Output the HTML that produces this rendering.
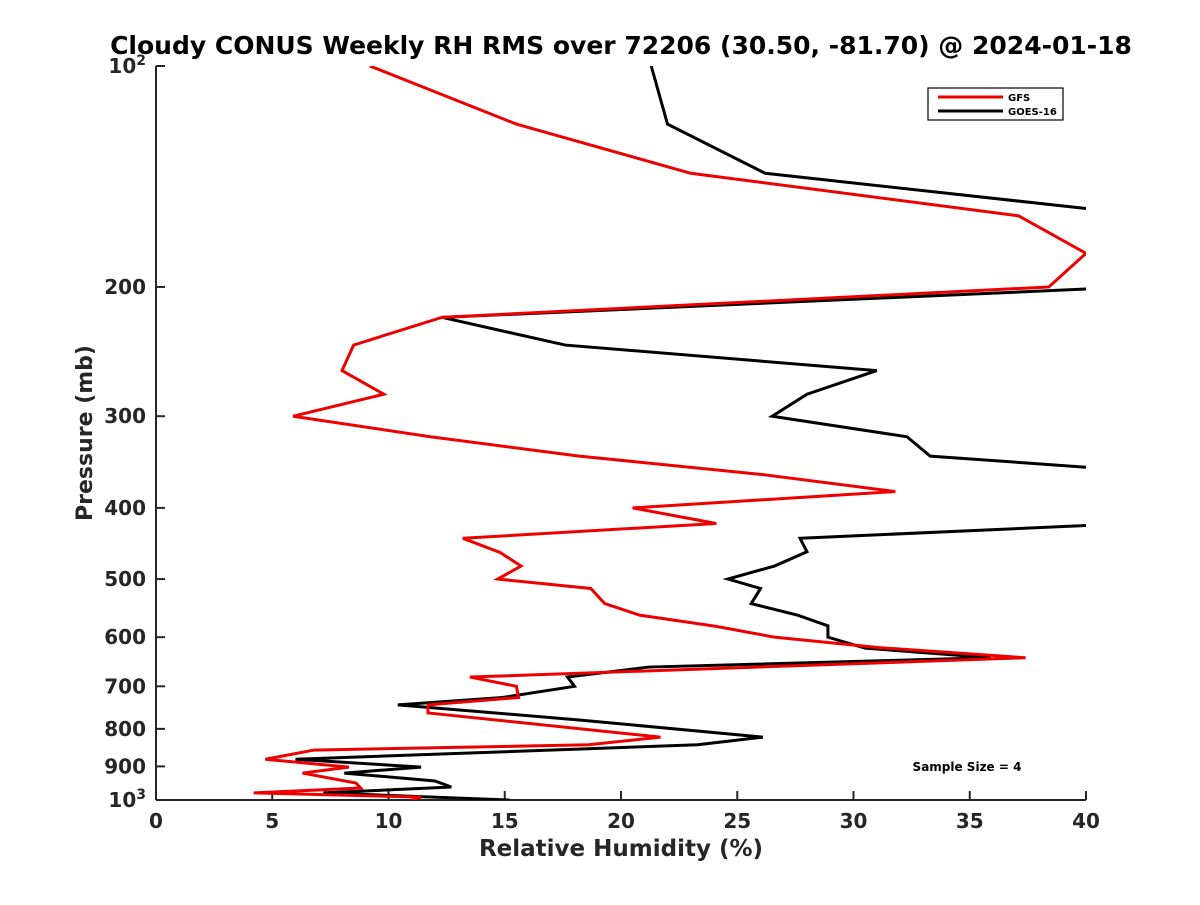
<!DOCTYPE html>
<html><head><meta charset="utf-8"><style>
body{margin:0;background:#fff;}
svg{font-family:"DejaVu Sans","Liberation Sans",sans-serif;font-weight:bold;}
</style></head><body>
<svg id="chart" width="1200" height="900">
<defs><clipPath id="clip"><rect x="156" y="66" width="930" height="734"/></clipPath></defs>
<text x="621" y="54" text-anchor="middle" font-size="25">Cloudy CONUS Weekly RH RMS over 72206 (30.50, -81.70) @ 2024-01-18</text>
<g id="axes"></g>
<g id="series" clip-path="url(#clip)"></g>
<text x="621" y="856" text-anchor="middle" font-size="23" fill="#262626">Relative Humidity (%)</text>
<text transform="translate(92,433) rotate(-90)" text-anchor="middle" font-size="22" fill="#262626">Pressure (mb)</text>
<g>
<rect x="928" y="88" width="135" height="32" fill="#fff" stroke="#000" stroke-width="1.2"/>
<line x1="938" y1="97" x2="1003" y2="97" stroke="#e00" stroke-width="3"/>
<text x="1008" y="101" font-size="10">GFS</text>
<line x1="938" y1="111" x2="1003" y2="111" stroke="#000" stroke-width="3"/>
<text x="1008" y="115" font-size="10">GOES-16</text>
</g>
<text x="967" y="771" text-anchor="middle" font-size="12">Sample Size = 4</text>
</svg>
<script>
const gfsPressure=[100,120,140,160,180,200,220,240,260,280,300,320,340,360,380,400,420,440,460,480,500,515,540,560,580,600,620,640,680,700,725,742,761,821,841,855,880,902,919,948,963,978,991,1000];
const gfsRH=[9.2,15.5,23.0,37.1,40,38.4,12.3,8.5,8.0,9.8,5.9,11.8,18.2,26.0,31.8,20.5,24.1,13.2,14.8,15.7,14.7,18.7,19.3,20.8,24.1,26.6,31.1,37.4,13.5,15.5,15.6,11.7,11.7,21.7,18.6,6.8,4.7,8.3,6.3,8.6,8.8,4.2,11.4,11.0];
const goesPressure=[100,120,140,157,201,220,240,260,280,300,320,340,353,422,440,459,480,500,515,540,560,579,600,621,640,659,680,700,725,742,778,821,841,880,902,919,942,960,978,1000];
const goesRH=[21.3,22.0,26.2,40.5,40.5,12.3,17.6,31.0,28.0,26.5,32.3,33.3,40.5,40.5,27.7,28.0,26.6,24.6,26.0,25.6,27.6,28.9,28.9,30.5,35.9,21.2,17.7,18.0,14.9,10.4,18.2,26.1,23.3,6.0,11.4,8.1,12.0,12.7,7.2,15.2];
const xTicks=[0,5,10,15,20,25,30,35,40];
const yTicks=[100,200,300,400,500,600,700,800,900,1000];
const yTickLabels=["10^2","200","300","400","500","600","700","800","900","10^3"];
const X0=156,X1=1086,Y0=66,Y1=800;
const xs=v=>X0+(v/40)*(X1-X0);
const ys=p=>Y0+Math.log10(p/100)*(Y1-Y0);
const NS="http://www.w3.org/2000/svg";
const axes=document.getElementById('axes'),series=document.getElementById('series');
function mk(tag,attrs,parent){const e=document.createElementNS(NS,tag);for(const k in attrs)e.setAttribute(k,attrs[k]);parent.appendChild(e);return e;}
let e=mk('line',{x1:X0,y1:Y0,x2:X0,y2:Y1,stroke:'#262626','stroke-width':2},axes);


e=mk('line',{x1:X0,y1:Y1,x2:X1,y2:Y1,stroke:'#262626','stroke-width':2},axes);


xTicks.forEach(t=>{
 const x=xs(t);
 let l=mk('line',{x1:x,y1:Y1,x2:x,y2:Y1-9,stroke:'#262626','stroke-width':2},axes);
 
 
 let tx=mk('text',{x:x,y:Y1+28,'text-anchor':'middle','font-size':20,fill:'#262626'},axes);
 tx.textContent=t;
 
 
});
yTicks.forEach((t,i)=>{
 const y=ys(t);
 let l=mk('line',{x1:X0,y1:y,x2:X0+9,y2:y,stroke:'#262626','stroke-width':2},axes);
 
 
 let tx=mk('text',{x:X0-10,y:y+7,'text-anchor':'end','font-size':20,fill:'#262626'},axes);
 const lab=yTickLabels[i];
 if(lab.includes('^')){
   const [b,s]=lab.split('^');
   const t1=mk('tspan',{},tx); t1.textContent=b;
   const t2=mk('tspan',{dy:-8,'font-size':14},tx); t2.textContent=s;
 } else tx.textContent=lab;
 
 
});
function drawLine(P,R,color,name){
 const pts=P.map((p,i)=>xs(R[i])+','+ys(p)).join(' ');
 const pl=mk('polyline',{points:pts,fill:'none',stroke:color,'stroke-width':3,'stroke-linejoin':'miter'},series);
 
 
}
drawLine(goesPressure,goesRH,'#000','goes16-line');
drawLine(gfsPressure,gfsRH,'#e00','gfs-line');
</script>
</body></html>
